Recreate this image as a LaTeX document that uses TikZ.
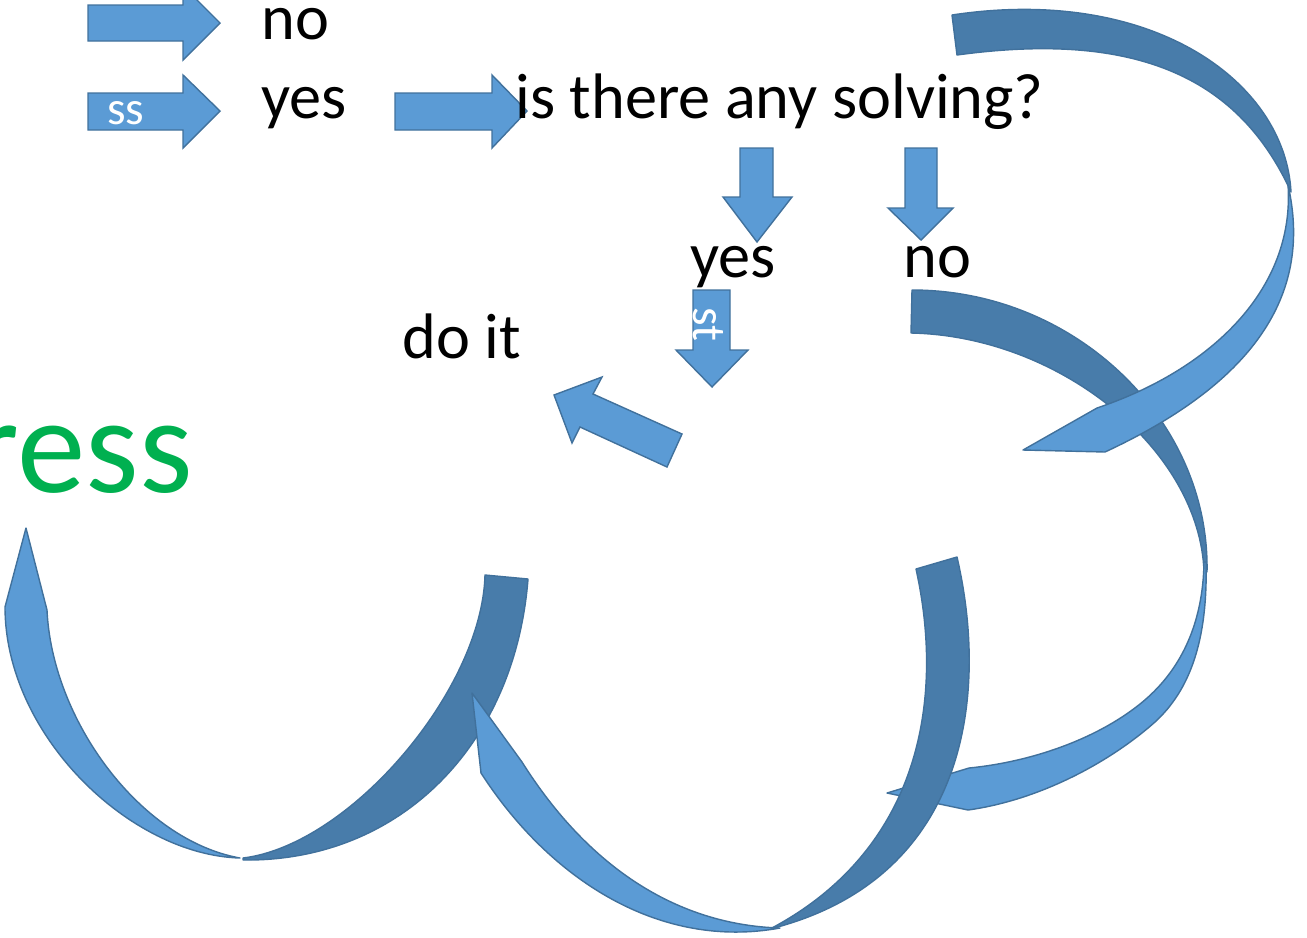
\documentclass[tikz,border=0pt]{standalone}
\usepackage{fontspec}
\setmainfont{Carlito}
\definecolor{arrowBlue}{HTML}{5B9BD5}
\definecolor{arrowDark}{HTML}{487CAA}
\definecolor{arrowLine}{HTML}{41719C}
\definecolor{progGreen}{HTML}{00B050}
\tikzset{
  blockarrow/.style={draw=arrowLine, fill=arrowBlue, line width=0.8pt, line join=miter},
  backband/.style={draw=arrowLine, fill=arrowDark, line width=0.8pt},
  frontband/.style={draw=arrowLine, fill=arrowBlue, line width=0.8pt},
  flowword/.style={font=\fontsize{36.6}{40}\selectfont, inner sep=0pt, anchor=base west},
  whitebit/.style={text=white, font=\fontsize{27}{30}\selectfont, inner sep=0pt},
}

\begin{document}
\begin{tikzpicture}[x=0.02cm, y=-0.02cm, line join=round]
  \useasboundingbox (0,0) rectangle (1307,937);

  % bottom left loop
  \draw[backband] (528,579) .. controls (515,745) and (400,862) .. (243,860)
    -- (243,858) .. controls (350,845) and (482,690) .. (485,575) -- cycle;
  \draw[frontband] (240,858) .. controls (130,855) and (5,735) .. (5,607)
    -- (26,528) -- (47,610) .. controls (52,720) and (140,840) .. (240,858) -- cycle;

  % right loop
  \draw[backband] (912,290) .. controls (1075,290) and (1210,420) .. (1207,572)
    -- (1204,572) .. controls (1200,450) and (1060,336) .. (911,333) -- cycle;
  \draw[frontband] (1206,562) .. controls (1208,640) and (1190,690) .. (1155,722)
    .. controls (1110,762) and (1040,800) .. (968,810) -- (887,793)
    -- (969,768) .. controls (1030,762) and (1095,740) .. (1140,704)
    .. controls (1180,672) and (1203,625) .. (1204,562) -- cycle;

  % bottom middle loop
  \draw[backband] (957,557) .. controls (990,700) and (965,880) .. (770,929)
    .. controls (920,850) and (945,700) .. (916,569) -- cycle;
  \draw[frontband] (780,928) .. controls (660,950) and (550,880) .. (481,773)
    -- (472,693) -- (522,762) .. controls (590,870) and (680,925) .. (780,928) -- cycle;

  % top right loop
  \draw[backband] (952,15) .. controls (1150,-15) and (1285,80) .. (1291,192)
    .. controls (1240,80) and (1140,30) .. (957,55) -- cycle;
  \draw[frontband] (1288,185) .. controls (1312,290) and (1260,380) .. (1105,452)
    -- (1023,450) -- (1097,408) .. controls (1210,370) and (1295,290) .. (1288,185) -- cycle;

  % block arrows
  \draw[blockarrow] (88,5) -- (183,5) -- (183,-14) -- (220,23) -- (183,60) -- (183,41) -- (88,41) -- cycle;
  \draw[blockarrow] (88,93) -- (183,93) -- (183,75) -- (220,111) -- (183,148) -- (183,130) -- (88,130) -- cycle;
  \draw[blockarrow] (395,93) -- (492,93) -- (492,75) -- (527,111) -- (492,148) -- (492,130) -- (395,130) -- cycle;
  \draw[blockarrow] (740,148) -- (773,148) -- (773,197) -- (792,197) -- (757,242) -- (723,197) -- (740,197) -- cycle;
  \draw[blockarrow] (905,148) -- (937,148) -- (937,208) -- (953,208) -- (921,240) -- (888,208) -- (905,208) -- cycle;
  \draw[blockarrow] (693,290) -- (730,290) -- (730,350) -- (748,350) -- (712,387) -- (676,350) -- (693,350) -- cycle;
  \draw[blockarrow] (554,395) -- (602,377) -- (593,394) -- (682,434) -- (667,467) -- (580,427) -- (572,443) -- cycle;

  \node[whitebit] (ssbit) at (126,113) {ss};
  \node[whitebit, rotate=-90] (stbit) at (708,324) {st};

  % texts
  \node[flowword] (topno) at (261,39) {no};
  \node[flowword] (topyes) at (261,118) {yes};
  \node[flowword] (question) at (515,118) {is there any solving?};
  \node[flowword] (midyes) at (690,277) {yes};
  \node[flowword] (midno) at (903,277) {no};
  \node[flowword] (doit) at (402,358) {do it};
  \node[font=\fontsize{78}{80}\selectfont, text=progGreen, inner sep=0pt, anchor=base east] (ress) at (193,492) {ress};
\end{tikzpicture}
\end{document}
